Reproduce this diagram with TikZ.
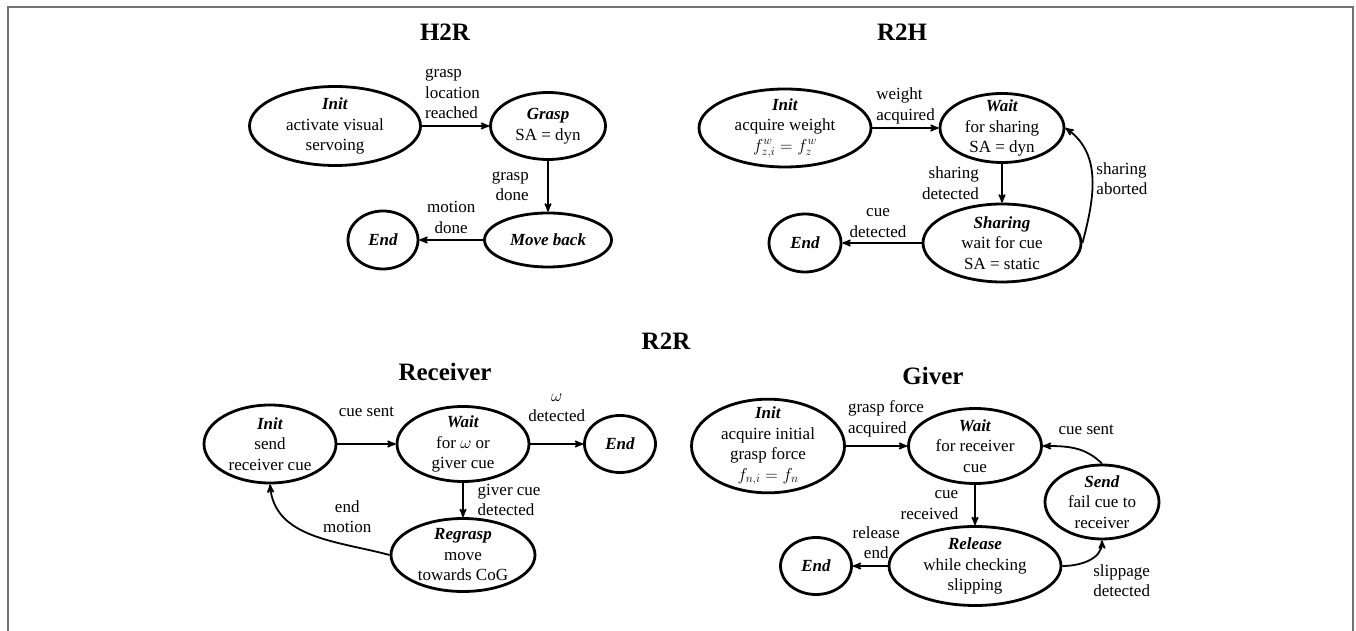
\documentclass[tikz,border=0pt]{standalone}
\usepackage{fontspec}
\setmainfont{Liberation Serif}
\usetikzlibrary{positioning,shapes,arrows}

\newcommand{\stname}[1]{\textbf{\textit{#1}}}

\begin{document}
\begin{tikzpicture}[->,>=stealth',x=1pt,y=1pt,line width=1.8pt,
                    state node/.style={ellipse,draw,line width=2.8pt,align=center,
                      inner xsep=0pt,inner ysep=-6pt,font=\fontsize{17}{20.5}\selectfont},
                    lbl/.style={align=center,font=\fontsize{17}{20.5}\selectfont},
                    title node/.style={font=\fontsize{25}{30}\selectfont\bfseries}
                   ]
  \useasboundingbox (0,0) rectangle (1356,631);
  \draw[-,line width=2pt,black!55] (8.3,0) -- (8.3,624.3) -- (1353.3,624.3) -- (1353.3,0);

  \node[title node] (t-h2r) at (445,599) {H2R};
  \node[title node] (t-r2h) at (902,599) {R2H};
  \node[title node] (t-r2r) at (666,290) {R2R};
  \node[title node] (t-recv) at (445,259) {Receiver};
  \node[title node] (t-giver) at (933,255) {Giver};

  % H2R
  \node[state node,minimum width=171pt,minimum height=79pt] (h2r-init) at (335,505) {\stname{Init}\\activate visual\\servoing};
  \node[state node,minimum width=115pt,minimum height=67pt] (h2r-grasp) [node distance=213pt,right of=h2r-init] {\stname{Grasp}\\SA = dyn};
  \node[state node,minimum width=127pt,minimum height=54pt] (h2r-back) [node distance=114pt,below of=h2r-grasp] {\stname{Move back}};
  \node[state node,minimum width=70pt,minimum height=58pt] (h2r-end) [node distance=165pt,left of=h2r-back] {\stname{End}};

  \path (h2r-init) edge node[lbl,above=3pt,xshift=-3pt,align=left] (h2r-l1) {grasp\\location\\reached} (h2r-grasp)
        (h2r-grasp) edge node[lbl,left=15pt,align=right] (h2r-l2) {grasp\\done} (h2r-back)
        (h2r-back) edge node[lbl,above=2.5pt] (h2r-l3) {motion\\done} (h2r-end);

  % R2H
  \node[state node,minimum width=172pt,minimum height=78pt] (r2h-init) at (785,503) {\stname{Init}\\acquire weight\\$f^{w}_{z,i}=f^{w}_{z}$};
  \node[state node,minimum width=124pt,minimum height=69pt] (r2h-wait) [node distance=217pt,right of=r2h-init] {\stname{Wait}\\for sharing\\SA = dyn};
  \node[state node,minimum width=158pt,minimum height=78pt] (r2h-share) [node distance=115pt,below of=r2h-wait] {\stname{Sharing}\\wait for cue\\SA = static};
  \node[state node,minimum width=72pt,minimum height=58pt] (r2h-end) [node distance=197pt,left of=r2h-share] {\stname{End}};

  \path (r2h-init) edge node[lbl,above,align=left] (r2h-l1) {weight\\acquired} (r2h-wait)
        (r2h-wait) edge node[lbl,left=19pt,align=right] (r2h-l2) {sharing\\detected} (r2h-share)
        (r2h-share.east) edge[out=75,in=-35] node[lbl,right,align=left] (r2h-l3) {sharing\\aborted} (r2h-wait.east)
        (r2h-share) edge node[lbl,above=1.5pt,xshift=-4pt] (r2h-l4) {cue\\detected} (r2h-end);

  % R2R receiver
  \node[state node,minimum width=132pt,minimum height=78pt] (rcv-init) at (270,187) {\stname{Init}\\send\\receiver cue};
  \node[state node,minimum width=132pt,minimum height=75pt] (rcv-wait) [node distance=193pt,right of=rcv-init] {\stname{Wait}\\for $\omega$ or\\giver cue};
  \node[state node,minimum width=71pt,minimum height=57pt] (rcv-end) [node distance=157pt,right of=rcv-wait] {\stname{End}};
  \node[state node,minimum width=144pt,minimum height=73pt] (rcv-regrasp) [node distance=111pt,below of=rcv-wait] {\stname{Regrasp}\\move\\towards CoG};

  \path (rcv-init) edge node[lbl,above=23pt] (rcv-l1) {cue sent} (rcv-wait)
        (rcv-wait) edge node[lbl,above=18pt] (rcv-l2) {$\omega$\\detected} (rcv-end)
        (rcv-wait) edge node[lbl,right=10.5pt,align=left] (rcv-l3) {giver cue\\detected} (rcv-regrasp)
        (rcv-regrasp.west) edge[out=165,in=-85] node[lbl,pos=0.45,above right] (rcv-l4) {end\\motion} (rcv-init.south);

  % R2R giver
  \node[state node,minimum width=153pt,minimum height=93pt] (gv-init) at (768,185) {\stname{Init}\\acquire initial\\grasp force\\$f_{n,i}=f_{n}$};
  \node[state node,minimum width=133pt,minimum height=75pt] (gv-wait) [node distance=207pt,right of=gv-init] {\stname{Wait}\\for receiver\\cue};
  \node[state node,minimum width=172pt,minimum height=79pt] (gv-release) [node distance=120pt,below of=gv-wait] {\stname{Release}\\while checking\\slipping};
  \node[state node,minimum width=71pt,minimum height=57pt] (gv-end) [node distance=159pt,left of=gv-release] {\stname{End}};
  \node[state node,minimum width=114pt,minimum height=74pt] (gv-send) at (1102,129) {\stname{Send}\\fail cue to\\receiver};

  \path (gv-init) edge node[lbl,above=5pt,xshift=9.5pt,align=left] (gv-l1) {grasp force\\acquired} (gv-wait)
        (gv-wait) edge node[lbl,left=12.5pt,align=right] (gv-l2) {cue\\received} (gv-release)
        (gv-release) edge node[lbl,above=3pt,xshift=6pt] (gv-l3) {release\\end} (gv-end)
        (gv-release.east) edge[out=0,in=-90] node[lbl,below right,align=left] (gv-l4) {slippage\\detected} (gv-send.south)
        (gv-send.north) edge[out=135,in=0] node[lbl,pos=0.3,above=13pt] (gv-l5) {cue sent} (gv-wait.east);
\end{tikzpicture}
\end{document}
